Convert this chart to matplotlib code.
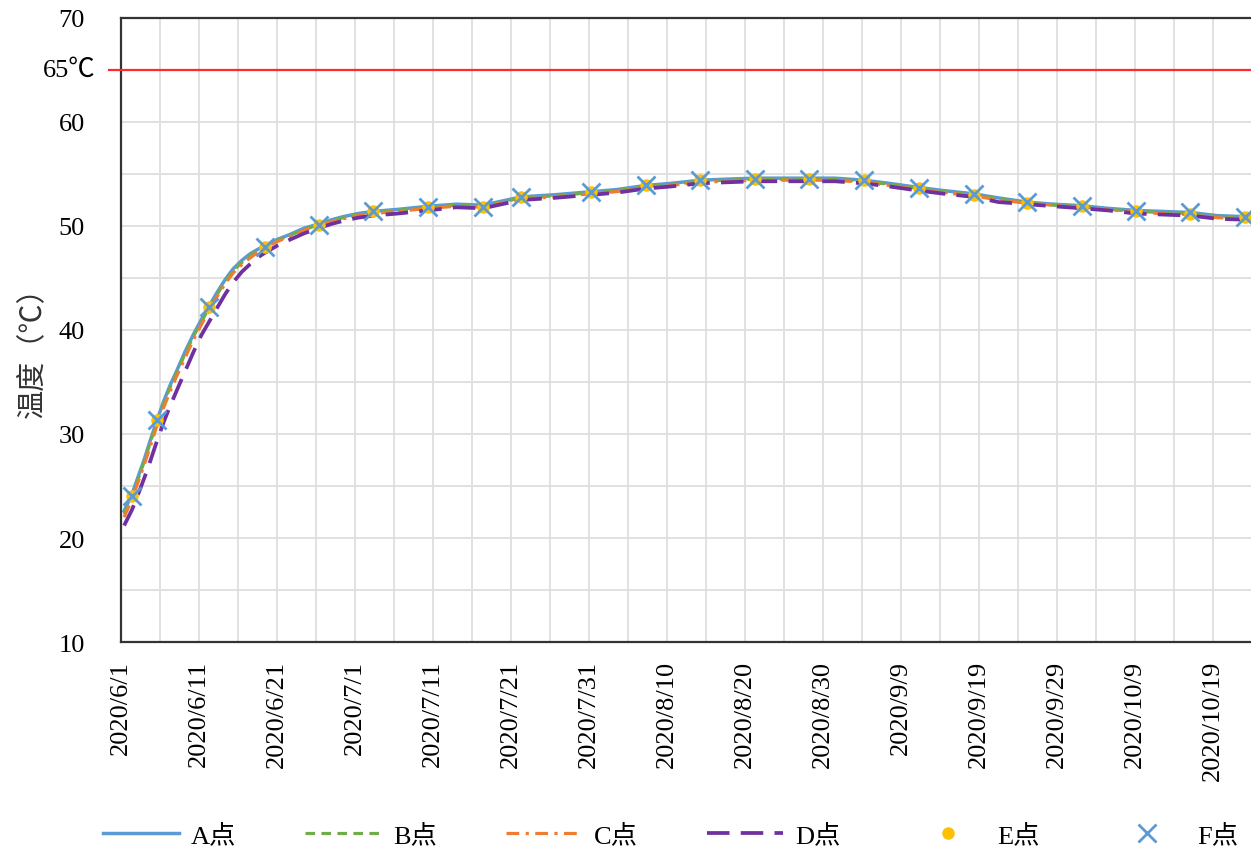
import datetime as dt

import matplotlib

matplotlib.use("Agg")
import matplotlib.pyplot as plt
from matplotlib.ticker import FixedLocator, FuncFormatter

plt.rcParams["font.family"] = ["Liberation Serif", "Noto Sans CJK SC"]

start = dt.date(2020, 6, 1)

# days since 2020/6/1
days = [0.4, 1.4, 2.2, 3.0, 3.8, 4.6, 5.5, 6.3, 7.1, 8.2, 9.3, 10.3, 11.3, 12.3, 13.4,
        14.4, 15.5, 16.5, 17.4, 18.4, 20.0, 21.7, 23.5, 25.4, 27.0, 28.5, 30.4, 32.3,
        35.5, 39.4, 43.0, 46.4, 51.3, 55.5, 60.3, 63.5, 67.3, 70.5, 74.2, 77.5, 81.3,
        84.5, 88.2, 91.5, 95.3, 98.5, 102.3, 105.5, 109.3, 112.5, 116.1, 119.5, 123.2,
        126.5, 130.1, 133.5, 137.1, 140.5, 144.1, 146.0]

temp_a = [22.6, 24.2, 25.9, 27.6, 29.5, 31.3, 33.2, 34.7, 36.0, 37.9, 39.6, 41.0, 42.3, 43.6, 44.9,
          45.9, 46.7, 47.3, 47.7, 48.1, 48.7, 49.2, 49.8, 50.2, 50.6, 50.9, 51.2, 51.4,
          51.6, 51.9, 52.1, 52.0, 52.8, 53.0, 53.3, 53.5, 53.9, 54.1, 54.4, 54.5, 54.6,
          54.6, 54.6, 54.6, 54.4, 54.1, 53.7, 53.4, 53.1, 52.7, 52.3, 52.1, 51.95,
          51.7, 51.5, 51.4, 51.3, 51.0, 50.9, 50.8]
temp_b = [22.3, 24.0, 25.7, 27.4, 29.3, 31.1, 33.0, 34.5, 35.8, 37.7, 39.4, 40.8, 42.1, 43.4, 44.7,
          45.7, 46.5, 47.1, 47.6, 48.0, 48.6, 49.1, 49.7, 50.1, 50.5, 50.8, 51.1, 51.3,
          51.5, 51.8, 52.0, 51.9, 52.7, 52.9, 53.2, 53.4, 53.8, 54.0, 54.3, 54.4, 54.5,
          54.5, 54.5, 54.5, 54.3, 54.0, 53.6, 53.3, 53.0, 52.6, 52.2, 52.0, 51.85,
          51.6, 51.4, 51.3, 51.2, 50.9, 50.8, 50.7]
temp_c = [22.0, 23.7, 25.4, 27.1, 28.9, 30.8, 32.6, 34.1, 35.5, 37.3, 39.1, 40.5, 41.9, 43.2, 44.5,
          45.5, 46.3, 46.9, 47.4, 47.9, 48.5, 49.0, 49.6, 50.1, 50.4, 50.7, 51.0, 51.2,
          51.4, 51.7, 51.9, 51.8, 52.6, 52.8, 53.1, 53.3, 53.7, 53.9, 54.2, 54.3, 54.4,
          54.4, 54.4, 54.4, 54.2, 53.9, 53.5, 53.2, 52.9, 52.5, 52.2, 52.0, 51.8,
          51.6, 51.3, 51.2, 51.1, 50.8, 50.7, 50.6]
temp_d = [21.2, 22.7, 24.2, 25.8, 27.5, 29.3, 31.2, 32.7, 34.1, 36.0, 37.9, 39.5, 40.8, 42.1, 43.5,
          44.6, 45.6, 46.3, 46.9, 47.4, 48.1, 48.7, 49.3, 49.8, 50.2, 50.5, 50.8, 51.0,
          51.2, 51.5, 51.8, 51.7, 52.5, 52.7, 53.0, 53.2, 53.6, 53.8, 54.1, 54.2, 54.3,
          54.3, 54.3, 54.3, 54.1, 53.8, 53.4, 53.1, 52.8, 52.3, 52.1, 51.9, 51.7,
          51.5, 51.2, 51.1, 51.0, 50.7, 50.6, 50.5]

# weekly spot readings (E, F)
spot_days = [1.4, 4.6, 11.3, 18.4, 25.4, 32.3, 39.4, 46.4, 51.3, 60.3, 67.3, 74.2, 81.3,
             88.2, 95.3, 102.3, 109.3, 116.1, 123.2, 130.1, 137.1, 144.1]
temp_e = [24.0, 31.3, 42.2, 48.0, 50.1, 51.4, 51.8, 51.8, 52.8, 53.3, 53.9, 54.4, 54.5,
          54.5, 54.4, 53.7, 53.0, 52.2, 51.9, 51.4, 51.2, 50.9]
temp_f = [24.0, 31.3, 42.2, 48.0, 50.1, 51.4, 51.8, 51.8, 52.8, 53.3, 53.9, 54.4, 54.5,
          54.5, 54.4, 53.7, 53.1, 52.3, 51.95, 51.4, 51.3, 50.9]

limit = 65
y_ticks = [10, 20, 30, 40, 50, 60, 70]

fig = plt.figure(figsize=(12.51, 8.53), dpi=100)
ax = fig.add_axes([121 / 1251, 1 - 643 / 853, 146 * 7.8 / 1251, 624 / 853])

ax.plot([-1.5, 146], [limit, limit], color="#ff2a2a", lw=1.6, clip_on=False, zorder=3)

ax.plot(days, temp_a, color="#5b9bd5", lw=2.5, label="A点", zorder=4)
ax.plot(days, temp_b, color="#70ad47", lw=2.3, ls=(0, (3, 2)), label="B点", zorder=4)
ax.plot(days, temp_c, color="#ed7d31", lw=2.3, ls=(0, (4, 2, 1, 2)), label="C点", zorder=4)
ax.plot(days, temp_d, color="#7030a0", lw=2.7, ls=(0, (6, 3)), label="D点", zorder=4)
ax.plot(spot_days, temp_e, ls="none", marker="o", ms=8, color="#ffc000", label="E点", zorder=5)
ax.plot(spot_days, temp_f, ls="none", marker="x", ms=13, mew=2, color="#5b9bd5",
        label="F点", zorder=6)

ax.set_xlim(0, 146)
ax.set_ylim(10, 70)

ax.xaxis.set_major_locator(FixedLocator(list(range(0, 150, 10))))
ax.xaxis.set_minor_locator(FixedLocator(list(range(5, 150, 10))))
ax.xaxis.set_major_formatter(FuncFormatter(
    lambda v, p: (lambda d: f"{d.year}/{d.month}/{d.day}")(start + dt.timedelta(days=int(v)))))
ax.set_yticks(y_ticks)
ax.yaxis.set_minor_locator(FixedLocator(list(range(15, 70, 10))))

ax.grid(True, which="both", color="#dedede", lw=1.3)
ax.set_axisbelow(True)
ax.tick_params(axis="both", which="both", length=0)
ax.tick_params(axis="y", labelsize=19, pad=26)
ax.tick_params(axis="x", labelsize=19, labelrotation=90, pad=13)
for lab in ax.get_xticklabels():
    lab.set_verticalalignment("top")

for side in ["left", "bottom", "top"]:
    ax.spines[side].set_color("#333333")
    ax.spines[side].set_linewidth(1.6)
ax.spines["right"].set_visible(False)

ax.text(-3.3, limit, "65℃", ha="right", va="center", fontsize=19)
ax.set_ylabel("温度（℃）", fontsize=21, color="#333333")
ax.yaxis.set_label_coords(-0.066, 0.478)

fig.legend(loc="center left", bbox_to_anchor=(0.082, 0.019), ncol=6, frameon=False,
           fontsize=19, handlelength=2.9, columnspacing=2.6, handletextpad=0.45,
           borderpad=0, borderaxespad=0, markerscale=1.0)

plt.savefig("out.png", dpi=100)
plt.close()
